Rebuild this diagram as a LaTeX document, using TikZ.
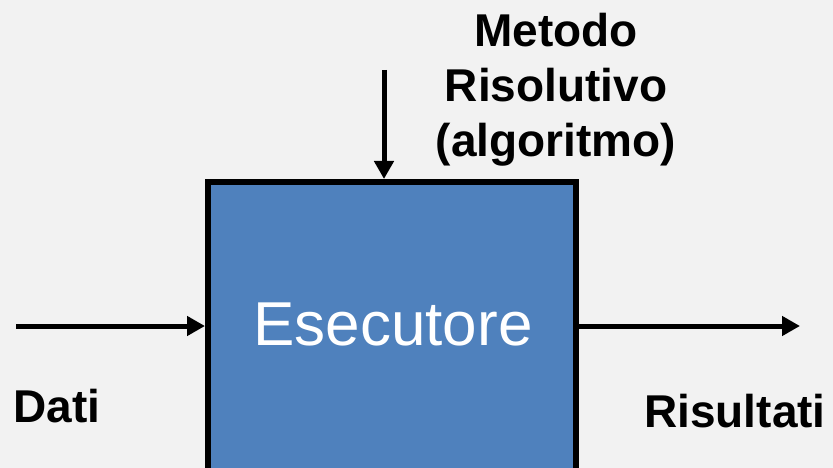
\documentclass[tikz,border=0pt]{standalone}
\usepackage{fontspec}
\setmainfont{Liberation Sans}
\usetikzlibrary{arrows.meta}
\definecolor{bg}{HTML}{F2F2F2}
\definecolor{boxblue}{HTML}{4F81BD}
\begin{document}
\begin{tikzpicture}[x=1pt,y=-1pt,
  conn/.style={line width=5pt,-{Triangle[length=18pt,width=19pt]}},
  lbl/.style={font=\fontsize{46}{55}\selectfont\bfseries,inner sep=0pt,align=center}]
\useasboundingbox (0,0) rectangle (833,468);
\fill[bg] (0,0) rectangle (833,468);
\begin{scope}
\clip (0,0) rectangle (833,468);
\node[draw,line width=6pt,fill=boxblue,minimum width=368pt,minimum height=308pt,inner sep=0pt] (box) at (392,336) {};
\node[anchor=base,inner sep=0pt,text=white,font=\fontsize{62}{70}\selectfont] (esec) at (393,345) {Esecutore};
\coordinate (din) at (16,326);
\coordinate (dout) at (800,326);
\coordinate (min) at (384,70);
\draw[conn] (din) -- (din -| box.west);
\draw[conn] (dout -| box.east) -- (dout);
\draw[conn] (min) -- (min |- box.north);
\node[lbl,anchor=base] (metodo) at (556,157) {Metodo\\Risolutivo\\(algoritmo)};
\node[lbl,anchor=base] (dati) at (57,422) {Dati};
\node[lbl,anchor=base] (ris) at (735,427) {Risultati};
\end{scope}
\end{tikzpicture}
\end{document}
